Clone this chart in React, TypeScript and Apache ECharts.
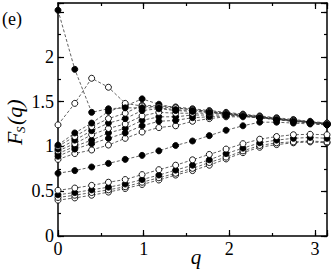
import React, { useEffect, useRef } from "react";
import * as echarts from "echarts";

const Q = [0, 0.196, 0.393, 0.589, 0.785, 0.982, 1.178, 1.374, 1.571, 1.767, 1.963, 2.16, 2.356, 2.553, 2.749, 2.945, 3.1416];

const A_f = [2.52, 1.86, 1.38, 1.42, 1.43, 1.43, 1.43, 1.41, 1.4, 1.38, 1.36, 1.34, 1.32, 1.3, 1.28, 1.27, 1.25];
const B_o = [1.24, 1.48, 1.76, 1.66, 1.48, 1.45, 1.44, 1.43, 1.41, 1.39, 1.37, 1.35, 1.33, 1.31, 1.29, 1.27, 1.26];
const U1_f = [1.015, 1.15, 1.26, 1.39, 1.45, 1.53, 1.47, 1.43, 1.41, 1.39, 1.37, 1.35, 1.33, 1.31, 1.29, 1.27, 1.25];
const U2_o = [1.0, 1.11, 1.22, 1.31, 1.37, 1.46, 1.45, 1.44, 1.42, 1.4, 1.38, 1.36, 1.34, 1.32, 1.3, 1.28, 1.26];
const U3_f = [0.97, 1.07, 1.175, 1.26, 1.31, 1.4, 1.42, 1.4, 1.39, 1.38, 1.37, 1.35, 1.33, 1.31, 1.29, 1.27, 1.25];
const U4_o = [0.95, 1.03, 1.13, 1.2, 1.25, 1.34, 1.38, 1.37, 1.37, 1.37, 1.36, 1.35, 1.33, 1.31, 1.29, 1.27, 1.25];
const U5_f = [0.92, 1.0, 1.07, 1.15, 1.2, 1.29, 1.33, 1.33, 1.35, 1.35, 1.35, 1.34, 1.32, 1.3, 1.29, 1.27, 1.25];
const U6_f = [0.89, 0.97, 1.03, 1.09, 1.15, 1.23, 1.28, 1.29, 1.32, 1.33, 1.34, 1.34, 1.32, 1.3, 1.28, 1.26, 1.24];
const U7_o = [0.855, 0.92, 0.96, 1.015, 1.09, 1.16, 1.21, 1.23, 1.28, 1.31, 1.33, 1.33, 1.32, 1.3, 1.28, 1.26, 1.24];
const M_f = [0.7, 0.73, 0.77, 0.81, 0.855, 0.9, 0.95, 1.01, 1.06, 1.12, 1.18, 1.23, 1.27, 1.27, 1.26, 1.25, 1.24];
const L1_o = [0.51, 0.535, 0.565, 0.6, 0.63, 0.685, 0.74, 0.79, 0.85, 0.91, 0.97, 1.03, 1.08, 1.11, 1.13, 1.135, 1.13];
const L2_f = [0.46, 0.485, 0.515, 0.545, 0.58, 0.63, 0.68, 0.735, 0.79, 0.85, 0.92, 0.98, 1.04, 1.07, 1.09, 1.1, 1.09];
const L3_o = [0.43, 0.455, 0.485, 0.515, 0.55, 0.6, 0.65, 0.7, 0.755, 0.82, 0.88, 0.95, 1.01, 1.04, 1.05, 1.06, 1.05];
const L4_o = [0.4, 0.425, 0.455, 0.49, 0.53, 0.575, 0.625, 0.68, 0.73, 0.79, 0.86, 0.93, 0.99, 1.02, 1.04, 1.05, 1.04];

const SERIES: [string, number[], boolean][] = [
  ["L4", L4_o, false],
  ["L3", L3_o, false],
  ["L2", L2_f, true],
  ["L1", L1_o, false],
  ["M", M_f, true],
  ["U7", U7_o, false],
  ["U6", U6_f, true],
  ["U5", U5_f, true],
  ["U4", U4_o, false],
  ["U3", U3_f, true],
  ["U2", U2_o, false],
  ["U1", U1_f, true],
  ["B", B_o, false],
  ["A", A_f, true],
];

const FONT = "Liberation Serif";

export default function App() {
  const ref = useRef<HTMLDivElement>(null);
  useEffect(() => {
    if (!ref.current) return;
    const chart = echarts.init(ref.current, null, { renderer: "svg" });
    const lineCol = "#000";
    const common = (pos: string, interval: number, len: number, main: boolean, labels: boolean, max: number) => ({
      type: "value",
      position: pos,
      min: 0,
      max,
      interval,
      axisLine: { show: main, onZero: false, lineStyle: { color: lineCol, width: 1.5 } },
      axisTick: { show: true, inside: true, length: len, lineStyle: { color: lineCol, width: 1.2 } },
      splitLine: { show: false },
      axisLabel: labels
        ? {
            show: true,
            color: "#000",
            fontFamily: FONT,
            fontSize: 18,
            margin: 4,
            formatter: (v: number) => {
              const ok = pos === "bottom" ? [0, 1, 2, 3] : [0, 0.5, 1, 1.5, 2];
              if (!ok.some((o) => Math.abs(o - v) < 1e-6)) return "";
              return String(v);
            },
          }
        : { show: false },
    });
    const XMAX = Math.PI;
    const YMAX = 2.6;
    chart.setOption({
      animation: false,
      backgroundColor: "#fff",
      grid: { left: 58, right: 5, top: 3, bottom: 35, containLabel: false },
      xAxis: [
        common("bottom", 1, 6, true, true, XMAX),
        common("bottom", 0.5, 3, false, false, XMAX),
        common("top", 1, 6, true, false, XMAX),
        common("top", 0.5, 3, false, false, XMAX),
      ],
      yAxis: [
        common("left", 0.5, 6, true, true, YMAX),
        common("left", 0.25, 3, false, false, YMAX),
        common("right", 0.5, 6, true, false, YMAX),
        common("right", 0.25, 3, false, false, YMAX),
      ],
      series: SERIES.map(([name, vals, filled]) => ({
        name,
        type: "line",
        xAxisIndex: 0,
        yAxisIndex: 0,
        data: vals.map((v, i) => [Q[i], v]),
        symbol: "circle",
        symbolSize: 6,
        showAllSymbol: true,
        lineStyle: { color: "#3a3a3a", width: 0.8, type: [3, 2] },
        itemStyle: {
          color: filled ? "#000" : "#fff",
          borderColor: "#000",
          borderWidth: 0.9,
        },
        emphasis: { disabled: true },
        z: 2,
      })),
      graphic: [
        {
          type: "text",
          x: 2,
          y: 19,
          style: { text: "(e)", fontFamily: FONT, fontSize: 18, fill: "#000", verticalAlign: "middle" },
        },
        {
          type: "text",
          x: 196,
          y: 257,
          style: {
            text: "q",
            fontFamily: FONT,
            fontStyle: "italic",
            fontSize: 21,
            fill: "#000",
            align: "center",
            verticalAlign: "middle",
          },
        },
        {
          type: "group",
          x: 14,
          y: 145,
          rotation: Math.PI / 2,
          children: [
            {
              type: "text",
              x: 0,
              y: 0,
              style: { text: "F", fontFamily: FONT, fontStyle: "italic", fontSize: 22, fill: "#000", align: "left", verticalAlign: "middle" },
            },
            {
              type: "text",
              x: 12,
              y: 6,
              style: { text: "S", fontFamily: FONT, fontStyle: "italic", fontSize: 13, fill: "#000", align: "left", verticalAlign: "middle" },
            },
            {
              type: "text",
              x: 20,
              y: 0,
              style: { text: "(q)", fontFamily: FONT, fontStyle: "italic", fontSize: 22, fill: "#000", align: "left", verticalAlign: "middle" },
            },
          ],
        },
      ],
    });
    return () => chart.dispose();
  }, []);
  return <div ref={ref} style={{ position: "fixed", left: 0, top: 0, width: 332, height: 271, background: "#fff" }} />;
}
